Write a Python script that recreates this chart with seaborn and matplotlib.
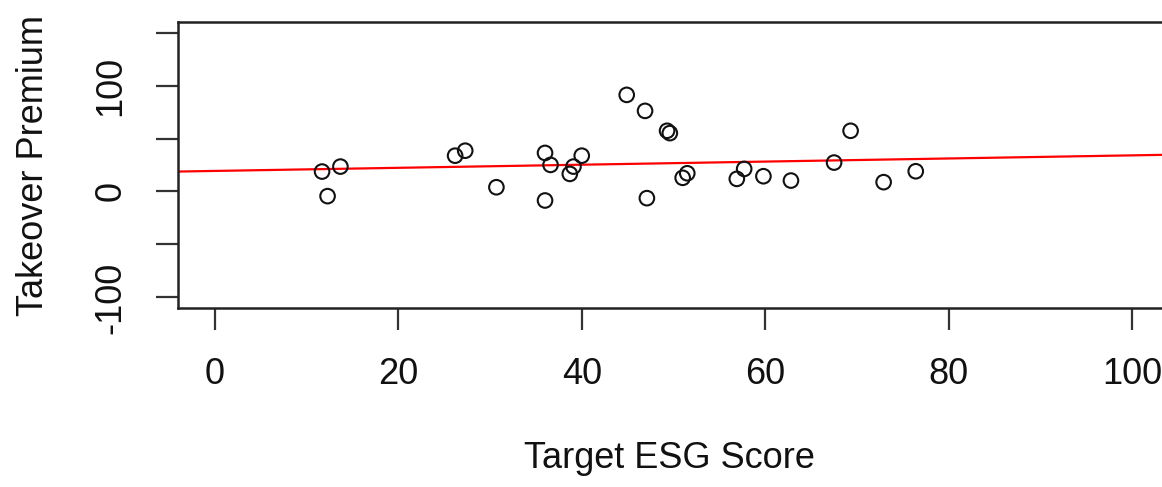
import matplotlib
matplotlib.use("Agg")
import matplotlib.pyplot as plt
import seaborn as sns
import numpy as np

# Data
esg_score = [11.7, 13.7, 12.3, 26.2, 27.3, 30.7, 36.0, 36.6, 36.0, 38.7, 39.1, 40.0,
             44.9, 46.9, 49.3, 49.6, 47.1, 51.0, 51.5, 56.9, 57.7, 59.8, 62.8, 67.5,
             69.3, 72.9, 76.4]
takeover_premium = [18.8, 23.5, -4.4, 33.8, 38.5, 4.0, 36.4, 25.1, -8.5, 16.6, 23.5, 33.8,
                    91.2, 76.1, 57.3, 55.1, -6.3, 12.9, 17.2, 11.9, 21.3, 14.4, 10.3, 27.3,
                    57.3, 8.8, 19.1]
fit_intercept = 19.4
fit_slope = 0.147

x_ticks = [0, 20, 40, 60, 80, 100]
x_tick_labels = ["0", "20", "40", "60", "80", "100"]
y_ticks = [-100, -50, 0, 50, 100, 150]
y_tick_labels = ["-100", "", "0", "", "100", ""]

sns.set_style("white")
plt.rcParams['font.family'] = ['Liberation Sans', 'DejaVu Sans']

W, H = 1162, 487
fig = plt.figure(figsize=(W / 100, H / 100), dpi=100)
left, right, top, bottom = 178, 1169, 22, 308
ax = fig.add_axes([left / W, 1 - bottom / H, (right - left) / W, (bottom - top) / H])

sns.scatterplot(x=esg_score, y=takeover_premium, ax=ax, marker='o', s=110,
                facecolor='none', edgecolor='#111111', linewidth=1.5, zorder=3)
ax.axline((0, fit_intercept), slope=fit_slope, color='#ff0000', lw=1.6, zorder=2)

ax.set_xlim(-4, 104)
ax.set_ylim(-110, 160)
ax.set_xticks(x_ticks)
ax.set_xticklabels(x_tick_labels)
ax.set_yticks(y_ticks)
ax.set_yticklabels(y_tick_labels, rotation=90, va='center')

for s in ['left', 'bottom', 'top', 'right']:
    ax.spines[s].set_color('#222222')
    ax.spines[s].set_linewidth(1.8)
ax.tick_params(axis='both', direction='out', length=15.5, width=1.6, color='#333333',
               labelsize=26, labelcolor='#111111', left=True, bottom=True)
ax.tick_params(axis='x', pad=20)
ax.tick_params(axis='y', pad=20)

ax.set_xlabel("Target ESG Score", fontsize=26, color='#111111')
ax.set_ylabel("Takeover Premium", fontsize=26, color='#111111')
ax.xaxis.set_label_coords((669 - left) / (right - left), (bottom - 441) / (bottom - top))
ax.yaxis.set_label_coords((51 - left) / (right - left), 0.5)

fig.savefig("out.png", dpi=100)
